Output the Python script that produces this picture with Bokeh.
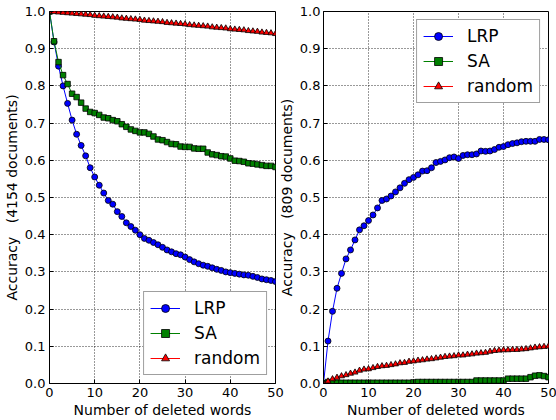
from bokeh.plotting import figure
from bokeh.models import Range1d, FixedTicker, NumeralTickFormatter, Legend, LegendItem
from bokeh.layouts import row
from bokeh.embed import file_html
from bokeh.resources import INLINE

# ---------------- data ----------------
deleted_words = list(range(51))

x_ticks = [0, 10, 20, 30, 40, 50]
y_ticks = [0.0, 0.1, 0.2, 0.3, 0.4, 0.5, 0.6, 0.7, 0.8, 0.9, 1.0]

series_labels = ["LRP", "SA", "random"]

# left panel (4154 documents)
lrp_4154 = [1.000, 0.918, 0.853, 0.800, 0.753, 0.708, 0.670, 0.640, 0.612, 0.580,
            0.555, 0.533, 0.512, 0.492, 0.482, 0.462, 0.449, 0.432, 0.422, 0.412,
            0.400, 0.390, 0.385, 0.379, 0.373, 0.366, 0.359, 0.354, 0.349, 0.346,
            0.340, 0.333, 0.327, 0.322, 0.318, 0.315, 0.311, 0.307, 0.304, 0.300,
            0.298, 0.296, 0.294, 0.292, 0.291, 0.288, 0.285, 0.281, 0.279, 0.277,
            0.274]
sa_4154 = [1.000, 0.920, 0.864, 0.829, 0.805, 0.779, 0.770, 0.755, 0.739, 0.730,
           0.727, 0.722, 0.715, 0.713, 0.708, 0.705, 0.697, 0.690, 0.683, 0.679,
           0.675, 0.675, 0.671, 0.664, 0.656, 0.654, 0.649, 0.644, 0.643, 0.637,
           0.636, 0.636, 0.632, 0.631, 0.631, 0.621, 0.616, 0.614, 0.611, 0.610,
           0.605, 0.599, 0.598, 0.596, 0.592, 0.591, 0.589, 0.587, 0.585, 0.585,
           0.582]
random_4154 = [1.000, 0.999, 0.998, 0.997, 0.996, 0.995, 0.994, 0.993, 0.992, 0.991,
               0.989, 0.988, 0.987, 0.986, 0.985, 0.984, 0.982, 0.981, 0.980, 0.979,
               0.978, 0.976, 0.975, 0.974, 0.973, 0.972, 0.970, 0.969, 0.968, 0.967,
               0.966, 0.964, 0.963, 0.962, 0.961, 0.960, 0.958, 0.957, 0.956, 0.955,
               0.953, 0.952, 0.951, 0.950, 0.948, 0.947, 0.946, 0.944, 0.943, 0.942,
               0.940]

# right panel (809 documents)
lrp_809 = [0.000, 0.114, 0.194, 0.256, 0.296, 0.335, 0.359, 0.386, 0.413, 0.424,
           0.438, 0.453, 0.472, 0.492, 0.496, 0.504, 0.515, 0.526, 0.538, 0.548,
           0.554, 0.561, 0.571, 0.572, 0.580, 0.594, 0.597, 0.601, 0.607, 0.609,
           0.605, 0.613, 0.615, 0.615, 0.617, 0.625, 0.624, 0.625, 0.629, 0.635,
           0.637, 0.642, 0.645, 0.647, 0.650, 0.651, 0.651, 0.651, 0.656, 0.656,
           0.655]
sa_809 = [0.000, 0.004, 0.003, 0.002, 0.002, 0.002, 0.002, 0.002, 0.002, 0.002,
          0.002, 0.002, 0.002, 0.002, 0.002, 0.002, 0.002, 0.002, 0.002, 0.002,
          0.003, 0.004, 0.004, 0.004, 0.004, 0.004, 0.004, 0.004, 0.004, 0.004,
          0.004, 0.004, 0.004, 0.004, 0.008, 0.008, 0.008, 0.008, 0.008, 0.008,
          0.008, 0.013, 0.013, 0.013, 0.013, 0.013, 0.017, 0.021, 0.022, 0.020,
          0.017]
random_809 = [0.000, 0.006, 0.012, 0.016, 0.020, 0.023, 0.027, 0.030, 0.035, 0.038,
              0.039, 0.042, 0.045, 0.047, 0.048, 0.050, 0.052, 0.055, 0.056, 0.059,
              0.060, 0.062, 0.063, 0.065, 0.066, 0.068, 0.070, 0.072, 0.073, 0.074,
              0.076, 0.076, 0.078, 0.079, 0.081, 0.082, 0.083, 0.086, 0.088, 0.089,
              0.090, 0.090, 0.091, 0.091, 0.092, 0.093, 0.095, 0.097, 0.098, 0.099,
              0.100]

x_label = "Number of deleted words"
y_label_left = "Accuracy \u00a0 (4154 documents)"
y_label_right = "Accuracy \u00a0 (809 documents)"

# ---------------- styling ----------------
FONT = "DejaVu Sans"
COLORS = ["#0000ff", "#008000", "#ff0000"]
MARKERS = ["circle", "square", "triangle"]
SIZES = [6, 5.5, 6]


def style_axis(ax):
    ax.major_tick_in = 4
    ax.major_tick_out = 0
    ax.minor_tick_line_color = None
    ax.axis_line_color = "black"
    ax.major_tick_line_color = "black"
    ax.major_label_text_font = FONT
    ax.major_label_text_font_size = "13px"
    ax.major_label_text_color = "black"
    ax.axis_label_text_font = FONT
    ax.axis_label_text_font_size = "14px"
    ax.axis_label_text_font_style = "normal"
    ax.axis_label_text_color = "black"


def make_panel(lrp, sa, rnd, ylabel, legend_loc, border_left, frame_w, border_right,
               tick_standoff, label_standoff):
    p = figure(frame_width=frame_w, frame_height=372,
               min_border_left=border_left, min_border_right=border_right,
               min_border_top=11, min_border_bottom=37,
               x_range=Range1d(0, 50), y_range=Range1d(0, 1.0),
               output_backend="svg", toolbar_location=None)
    p.background_fill_color = "white"
    p.border_fill_color = None
    p.outline_line_color = "black"
    p.outline_line_width = 1

    p.xaxis.ticker = FixedTicker(ticks=x_ticks)
    p.yaxis.ticker = FixedTicker(ticks=y_ticks)
    p.yaxis.formatter = NumeralTickFormatter(format="0.0")
    p.xaxis.axis_label = x_label
    p.yaxis.axis_label = ylabel
    style_axis(p.xaxis[0])
    style_axis(p.yaxis[0])
    p.xaxis.major_label_standoff = 4
    p.xaxis.axis_label_standoff = 2
    p.yaxis.major_label_standoff = tick_standoff
    p.yaxis.axis_label_standoff = label_standoff

    p.grid.grid_line_color = "black"
    p.grid.grid_line_dash = "1 2"
    p.grid.grid_line_alpha = 0.8
    p.grid.grid_line_width = 1
    p.xgrid.ticker = FixedTicker(ticks=x_ticks)
    p.ygrid.ticker = FixedTicker(ticks=y_ticks)

    items = []
    for vals, col, mk, sz, lab in zip([lrp, sa, rnd], COLORS, MARKERS, SIZES, series_labels):
        ln = p.line(deleted_words, vals, line_color=col, line_width=1)
        sc = p.scatter(deleted_words, vals, marker=mk, size=sz,
                       fill_color=col, line_color="black", line_width=0.8)
        items.append(LegendItem(label=lab, renderers=[ln, sc]))

    leg = Legend(items=items, location=legend_loc)
    leg.label_text_font = FONT
    leg.label_text_font_size = "17px"
    leg.label_text_color = "black"
    leg.glyph_width = 30
    leg.glyph_height = 20
    leg.label_height = 20
    leg.label_standoff = 14
    leg.spacing = 5
    leg.padding = 6
    leg.margin = 8
    leg.border_line_color = "#404040"
    leg.border_line_width = 1.5
    leg.background_fill_color = "white"
    leg.background_fill_alpha = 1.0
    p.add_layout(leg)
    return p


p_left = make_panel(lrp_4154, sa_4154, random_4154, y_label_left, "bottom_right",
                    49, 226, 10, 4, 2)
p_right = make_panel(lrp_809, sa_809, random_809, y_label_right, "top_right",
                     45, 225, 10, 3, 2)
p_right.margin = (0, 0, 0, -10)

layout = row(p_left, p_right)
open("out.html", "w").write(file_html(layout, INLINE))
